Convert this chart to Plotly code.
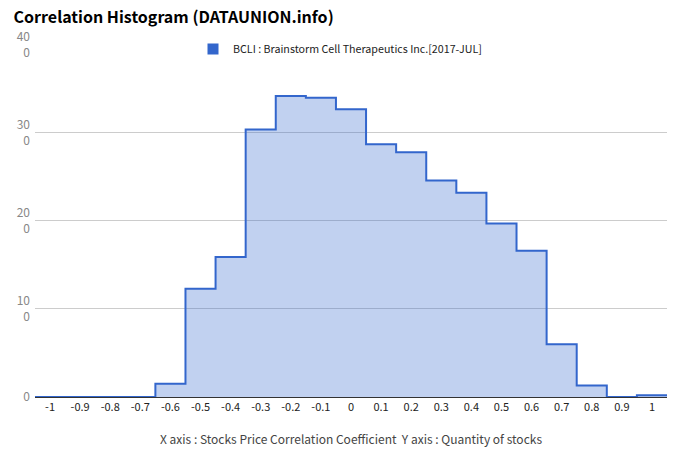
import plotly.graph_objects as go

# Data
bin_centers = [-1.0, -0.9, -0.8, -0.7, -0.6, -0.5, -0.4, -0.3, -0.2, -0.1,
               0.0, 0.1, 0.2, 0.3, 0.4, 0.5, 0.6, 0.7, 0.8, 0.9, 1.0]
counts = [0, 0, 0, 0, 15, 123, 159, 304, 342, 340,
          327, 287, 278, 246, 232, 197, 166, 60, 13, 0, 2]
bin_width = 0.1
series_name = "BCLI : Brainstorm Cell Therapeutics Inc.[2017-JUL]"
x_tick_vals = [-1, -0.9, -0.8, -0.7, -0.6, -0.5, -0.4, -0.3, -0.2, -0.1,
               0, 0.1, 0.2, 0.3, 0.4, 0.5, 0.6, 0.7, 0.8, 0.9, 1]
x_tick_text = ["-1", "-0.9", "-0.8", "-0.7", "-0.6", "-0.5", "-0.4", "-0.3", "-0.2", "-0.1",
               "0", "0.1", "0.2", "0.3", "0.4", "0.5", "0.6", "0.7", "0.8", "0.9", "1"]
y_tick_vals = [0, 100, 200, 300, 400]
y_tick_text = ["0", "10<br>0", "20<br>0", "30<br>0", "40<br>0"]

# step edges
edges = [c - bin_width / 2 for c in bin_centers] + [bin_centers[-1] + bin_width / 2]
step_y = counts + [counts[-1]]

FONT = "Noto Sans CJK KR, Noto Sans, sans-serif"
BLUE = "#3366cc"

fig = go.Figure()
fig.add_trace(go.Scatter(
    x=edges, y=step_y, mode="lines", line=dict(color=BLUE, width=2, shape="hv"),
    fill="tozeroy", fillcolor="rgba(51,102,204,0.3)", showlegend=False,
    hoverinfo="skip"))
fig.add_trace(go.Scatter(
    x=[None], y=[None], mode="markers", name=series_name,
    marker=dict(symbol="square", color=BLUE, size=11)))

fig.update_layout(
    width=680, height=462,
    margin=dict(l=35, r=13, t=44, b=65),
    paper_bgcolor="white", plot_bgcolor="white",
    font=dict(family=FONT, size=11, color="#222222"),
    title=dict(text="<b>Correlation Histogram (DATAUNION.info)</b>",
               x=0.02, xanchor="left", y=0.975, yanchor="top",
               font=dict(family=FONT, size=16, color="#000000")),
    legend=dict(x=0.25, xanchor="left", y=1.027, yanchor="top",
                orientation="h", bgcolor="rgba(0,0,0,0)",
                font=dict(family=FONT, size=10.7, color="#222222"),
                itemwidth=30),
    xaxis=dict(range=[-1.05, 1.05], tickvals=x_tick_vals, ticktext=x_tick_text,
               showgrid=False, zeroline=False, showline=True, linecolor="#333333",
               linewidth=1, ticks="", automargin=False,
               tickfont=dict(family=FONT, size=11, color="#222222"),
               title=dict(text="X axis : Stocks Price Correlation Coefficient \u00a0Y axis : Quantity of stocks",
                          font=dict(family=FONT, size=12, color="#444444"),
                          standoff=22)),
    yaxis=dict(range=[0, 401], tickvals=y_tick_vals, ticktext=y_tick_text,
               showgrid=True, gridcolor="#cccccc", zeroline=False,
               showline=False, ticks="", automargin=False, ticklabelstandoff=4,
               tickfont=dict(family=FONT, size=12, color="#888888")),
)

fig.write_html("out.html", config={"displayModeBar": False},
               post_script="document.body.style.margin='0';")
